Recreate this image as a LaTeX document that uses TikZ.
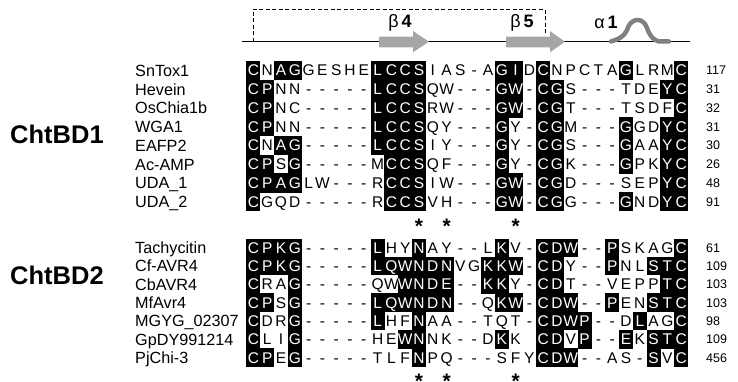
\documentclass[tikz,border=0pt]{standalone}
\usepackage{fontspec}
\setmainfont{Liberation Sans}
\definecolor{strandgray}{RGB}{166,166,166}
\definecolor{helixgray}{RGB}{128,128,128}
\tikzset{
  res/.style={anchor=base, inner sep=0pt, font=\fontsize{15.5}{15.5}\selectfont},
  resw/.style={res, text=white},
  seqname/.style={anchor=base west, inner sep=0pt, font=\fontsize{16.2}{17}\selectfont},
  seqnum/.style={anchor=base west, inner sep=0pt, font=\fontsize{12.5}{13}\selectfont},
  grouplab/.style={anchor=base west, inner sep=0pt, font=\bfseries\fontsize{25.5}{26}\selectfont},
  cons/.style={anchor=base, inner sep=0pt, font=\bfseries\fontsize{21}{21}\selectfont},
  sslab/.style={anchor=base, inner sep=0pt, font=\fontsize{18}{18}\selectfont},
  strandshape/.style={fill=strandgray, draw=none},
  backbone/.style={line width=1pt, black},
  bracket/.style={line width=1pt, dash pattern=on 4pt off 2.5pt},
  helixline/.style={line width=4.5pt, helixgray, line cap=round},
}
\newcommand\alrow[6]{%
  \node[seqname] (name#1) at (135,#2+5.8) {#4};
  \node[seqnum] (num#1) at (706,#2+4.5) {#6};
  \foreach \l/\f [count=\k] in {#5} {
    \pgfmathsetmacro\cx{246.5+13.8*(\k-0.5)}
    \ifnum\f=1\relax
      \fill (\cx-7.05,#2-#3/2-0.15) rectangle (\cx+7.05,#2+#3/2+0.15);
      \node[resw] (r#1c\k) at (\cx,#2+5.5) {\l};
    \else
      \node[res] (r#1c\k) at (\cx,#2+5.5) {\l};
    \fi
  }
}
\begin{document}
\begin{tikzpicture}[x=1pt,y=-1pt]
\useasboundingbox (0,0) rectangle (738,382);

% header: backbone, bracket, strands, helix
\coordinate (bbL) at (242,42);
\coordinate (bbR) at (690,42);
\draw[backbone] (bbL) -- (bbR);
\coordinate (brA) at (253,42);
\coordinate (brB) at (253,9.3);
\coordinate (brC) at (545,9.3);
\coordinate (brD) at (545,33);
\draw[bracket] (brA) -- (brB) -- (brC) -- (brD);
\fill[strandshape] (379,36.7) -- (413,36.7) -- (413,31) -- (429,41.7) -- (413,52.3) -- (413,47.3) -- (379,47.3) -- cycle;
\fill[strandshape] (506,36.7) -- (550,36.7) -- (550,31) -- (565,41.7) -- (550,52.3) -- (550,47.3) -- (506,47.3) -- cycle;
\draw[helixline] (611,41.5) .. controls (618,39) and (623,38) .. (627,30)
  .. controls (630,18) and (643,16) .. (647,28)
  .. controls (650,36) and (653,40) .. (659,41.5) -- (669,41.5);
\node[sslab] (b4) at (400,27.5) {β\,\textbf{4}};
\node[sslab] (b5) at (522,28) {β\,\textbf{5}};
\node[sslab] (a1) at (606,28.5) {α\,\textbf{1}};

% group labels
\node[grouplab] (g1) at (10,143.5) {ChtBD1};
\node[grouplab] (g2) at (10,284.5) {ChtBD2};

% ChtBD1 rows
\alrow{1}{70.5}{18.75}{SnTox1}{C/1,N/0,A/1,G/1,G/0,E/0,S/0,H/0,E/0,L/1,C/1,C/1,S/1,I/0,A/0,S/0,-/0,A/0,G/1,I/1,D/0,C/1,N/0,P/0,C/0,T/0,A/0,G/1,L/0,R/0,M/0,C/1}{117}
\alrow{2}{89.25}{18.75}{Hevein}{C/1,P/1,N/0,N/0,-/0,-/0,-/0,-/0,-/0,L/1,C/1,C/1,S/1,Q/0,W/0,-/0,-/0,-/0,G/1,W/1,-/0,C/1,G/1,S/0,-/0,-/0,-/0,T/0,D/0,E/0,Y/1,C/1}{31}
\alrow{3}{108}{18.75}{OsChia1b}{C/1,P/1,N/0,C/0,-/0,-/0,-/0,-/0,-/0,L/1,C/1,C/1,S/1,R/0,W/0,-/0,-/0,-/0,G/1,W/1,-/0,C/1,G/1,T/0,-/0,-/0,-/0,T/0,S/0,D/0,F/0,C/1}{32}
\alrow{4}{126.75}{18.75}{WGA1}{C/1,P/1,N/0,N/0,-/0,-/0,-/0,-/0,-/0,L/1,C/1,C/1,S/1,Q/0,Y/0,-/0,-/0,-/0,G/1,Y/0,-/0,C/1,G/1,M/0,-/0,-/0,-/0,G/1,G/0,D/0,Y/1,C/1}{31}
\alrow{5}{145.5}{18.75}{EAFP2}{C/1,N/0,A/1,G/1,-/0,-/0,-/0,-/0,-/0,L/1,C/1,C/1,S/1,I/0,Y/0,-/0,-/0,-/0,G/1,Y/0,-/0,C/1,G/1,S/0,-/0,-/0,-/0,G/1,A/0,A/0,Y/1,C/1}{30}
\alrow{6}{164.25}{18.75}{Ac-AMP}{C/1,P/1,S/0,G/1,-/0,-/0,-/0,-/0,-/0,M/0,C/1,C/1,S/1,Q/0,F/0,-/0,-/0,-/0,G/1,Y/0,-/0,C/1,G/1,K/0,-/0,-/0,-/0,G/1,P/0,K/0,Y/1,C/1}{26}
\alrow{7}{183}{18.75}{UDA\_1}{C/1,P/1,A/1,G/1,L/0,W/0,-/0,-/0,-/0,R/0,C/1,C/1,S/1,I/0,W/0,-/0,-/0,-/0,G/1,W/1,-/0,C/1,G/1,D/0,-/0,-/0,-/0,S/0,E/0,P/0,Y/1,C/1}{48}
\alrow{8}{201.75}{18.75}{UDA\_2}{C/1,G/0,Q/0,D/0,-/0,-/0,-/0,-/0,-/0,R/0,C/1,C/1,S/1,V/0,H/0,-/0,-/0,-/0,G/1,W/1,-/0,C/1,G/1,G/0,-/0,-/0,-/0,G/1,N/0,D/0,Y/1,C/1}{91}

% ChtBD2 rows
\alrow{9}{247.8}{18.3}{Tachycitin}{C/1,P/1,K/1,G/1,-/0,-/0,-/0,-/0,-/0,L/1,H/0,Y/0,N/1,A/0,Y/0,-/0,-/0,L/0,K/1,V/0,-/0,C/1,D/1,W/1,-/0,-/0,P/1,S/0,K/0,A/0,G/0,C/1}{61}
\alrow{10}{266.1}{18.3}{Cf-AVR4}{C/1,P/1,K/1,G/1,-/0,-/0,-/0,-/0,-/0,L/1,Q/1,W/1,N/1,D/1,N/1,V/0,G/0,K/1,K/1,W/1,-/0,C/1,D/1,Y/0,-/0,-/0,P/1,N/0,L/0,S/1,T/1,C/1}{109}
\alrow{11}{284.4}{18.3}{CbAVR4}{C/1,R/0,A/0,G/1,-/0,-/0,-/0,-/0,-/0,Q/0,W/0,W/1,N/1,D/1,E/1,-/0,-/0,K/1,K/1,Y/0,-/0,C/1,D/1,T/0,-/0,-/0,V/0,E/0,P/0,P/0,T/1,C/1}{103}
\alrow{12}{302.7}{18.3}{MfAvr4}{C/1,P/1,S/0,G/1,-/0,-/0,-/0,-/0,-/0,L/1,Q/1,W/1,N/1,D/1,N/1,-/0,-/0,Q/0,K/1,W/1,-/0,C/1,D/1,W/1,-/0,-/0,P/1,E/0,N/0,S/1,T/1,C/1}{103}
\alrow{13}{321}{18.3}{MGYG\_02307}{C/1,D/0,R/0,G/1,-/0,-/0,-/0,-/0,-/0,L/1,H/0,F/0,N/1,A/0,A/0,-/0,-/0,T/0,Q/0,T/0,-/0,C/1,D/1,W/1,P/1,-/0,-/0,D/0,L/1,A/0,G/0,C/1}{98}
\alrow{14}{339.3}{18.3}{GpDY991214}{C/1,L/0,I/0,G/1,-/0,-/0,-/0,-/0,-/0,H/0,E/0,W/1,N/1,N/0,K/0,-/0,-/0,D/0,K/1,K/0,~/0,C/1,D/1,V/0,P/1,-/0,-/0,E/1,K/0,S/1,T/1,C/1}{109}
\alrow{15}{357.6}{18.3}{PjChi-3}{C/1,P/1,E/0,G/1,-/0,-/0,-/0,-/0,-/0,T/0,L/0,F/0,N/1,P/0,Q/0,-/0,-/0,-/0,S/0,F/0,Y/0,C/1,D/1,W/1,-/0,-/0,A/0,S/0,-/0,S/1,V/0,C/1}{456}

% conserved positions
\foreach \c in {13,15,20} {
  \node[cons] (st1c\c) at ({246.5+13.8*(\c-0.5)},233.8) {*};
  \node[cons] (st2c\c) at ({246.5+13.8*(\c-0.5)},388.5) {*};
}
\end{tikzpicture}
\end{document}
